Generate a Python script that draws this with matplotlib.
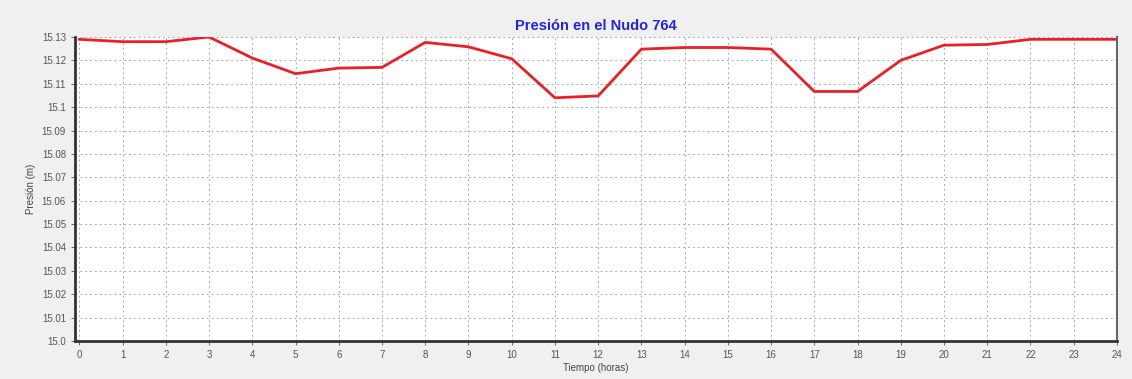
import matplotlib.pyplot as plt
from matplotlib.ticker import FuncFormatter

plt.rcParams['font.family'] = ['Liberation Sans', 'DejaVu Sans']

# datos ---------------------------------
horas = list(range(25))
presion = [15.129, 15.128, 15.128, 15.130, 15.121, 15.1143, 15.1167, 15.117,
           15.1277, 15.1258, 15.1207, 15.104, 15.1048, 15.1248, 15.1255,
           15.1255, 15.1248, 15.1067, 15.1067, 15.120, 15.1265, 15.1268,
           15.129, 15.129, 15.129]
yticks = [15.0 + i * 0.01 for i in range(14)]

# grafico -------------------------------
fig = plt.figure(figsize=(11.32, 3.79), dpi=100, facecolor="#f0f0f0")
ax = fig.add_axes([0.0663, 0.1003, 0.9204, 0.8021])
ax.set_facecolor("white")

ax.plot(horas, presion, color="#e8202a", lw=2)

ax.set_xlim(-0.1, 24)
ax.set_ylim(15.0, 15.13)
ax.set_xticks(horas)
ax.set_yticks(yticks)


def fmt(v, pos):
    s = f"{v:.2f}".rstrip("0")
    if s.endswith("."):
        s += "0"
    return s


ax.yaxis.set_major_formatter(FuncFormatter(fmt))
ax.tick_params(labelsize=7, colors="#555555", length=3, width=0.6)
ax.grid(True, color="#aaaaaa", ls=(0, (2, 3)), lw=0.7)

for s in ["left", "bottom"]:
    ax.spines[s].set_linewidth(2)
    ax.spines[s].set_color("#333333")
ax.spines["right"].set_color("#666666")
ax.spines["right"].set_linewidth(1.5)
ax.spines["top"].set_visible(False)

ax.set_title("Presión en el Nudo 764", color="#2424d8", fontsize=10.5,
             fontweight="bold", pad=5)
ax.set_xlabel("Tiempo (horas)", fontsize=7, color="#444444", labelpad=2)
ax.set_ylabel("Presión (m)", fontsize=7, color="#444444", labelpad=4)

fig.savefig("out.png", dpi=100, facecolor=fig.get_facecolor())
